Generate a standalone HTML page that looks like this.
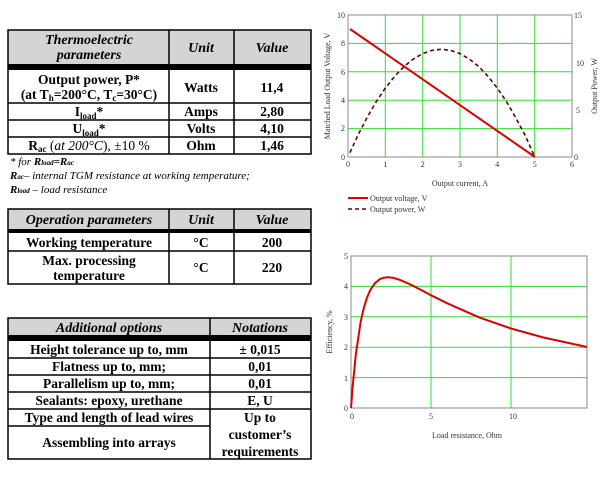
<!DOCTYPE html>
<html><head><meta charset="utf-8"><style>
html,body{margin:0;padding:0;background:#fff;}
svg{display:block;}
.t{font-family:"Liberation Serif",serif;font-weight:bold;font-size:13.5px;fill:#000;}
.h{font-family:"Liberation Serif",serif;font-weight:bold;font-style:italic;font-size:14px;fill:#000;}
.n{font-family:"Liberation Serif",serif;font-style:italic;font-size:11px;fill:#000;}
.a{font-family:"Liberation Serif",serif;font-size:8px;fill:#333;}
</style></head><body>
<svg width="613" height="478" viewBox="0 0 613 478" xmlns="http://www.w3.org/2000/svg">
<!-- Table 1 -->
<rect x="8" y="30" width="303" height="34" fill="#d4d4d4"/>
<rect x="8" y="64" width="303" height="6" fill="#000"/>
<g stroke="#000" stroke-width="1.5" fill="none">
<rect x="8" y="30" width="303" height="124"/>
<line x1="169" y1="30" x2="169" y2="154"/><line x1="234" y1="30" x2="234" y2="154"/>
<line x1="8" y1="103" x2="311" y2="103"/><line x1="8" y1="120" x2="311" y2="120"/><line x1="8" y1="137" x2="311" y2="137"/>
</g>
<g text-anchor="middle">
<text class="h" x="89" y="44">Thermoelectric</text><text class="h" x="89" y="59">parameters</text>
<text class="h" x="201" y="52">Unit</text><text class="h" x="272" y="52">Value</text>
<text class="t" x="89" y="84">Output power, P*</text>
<text class="t" x="89" y="99">(at T<tspan font-size="9" dy="2">h</tspan><tspan dy="-2">=200°C, T</tspan><tspan font-size="9" dy="2">c</tspan><tspan dy="-2">=30°C)</tspan></text>
<text class="t" x="201" y="92">Watts</text><text class="t" x="272" y="92">11,4</text>
<text class="t" x="89" y="116">I<tspan font-size="9" dy="3">load</tspan><tspan dy="-3">*</tspan></text>
<text class="t" x="201" y="116">Amps</text><text class="t" x="272" y="116">2,80</text>
<text class="t" x="89" y="133">U<tspan font-size="9" dy="3">load</tspan><tspan dy="-3">*</tspan></text>
<text class="t" x="201" y="133">Volts</text><text class="t" x="272" y="133">4,10</text>
<text class="t" x="89" y="150">R<tspan font-size="9" dy="2">ac</tspan><tspan dy="-2" font-weight="normal"> (<tspan font-style="italic">at 200°C</tspan>), ±10 %</tspan></text>
<text class="t" x="201" y="150">Ohm</text><text class="t" x="272" y="150">1,46</text>
</g>
<text class="n" x="10" y="165">* for <tspan font-weight="bold">R<tspan font-size="7">load</tspan>=R<tspan font-size="7">ac</tspan></tspan></text>
<text class="n" x="10" y="179"><tspan font-weight="bold">R<tspan font-size="7">ac</tspan></tspan>– internal TGM resistance at working temperature;</text>
<text class="n" x="10" y="193"><tspan font-weight="bold">R<tspan font-size="7">load</tspan></tspan> – load resistance</text>
<!-- Table 2 -->
<rect x="8" y="209" width="303" height="20" fill="#d4d4d4"/>
<rect x="8" y="229" width="303" height="4" fill="#000"/>
<g stroke="#000" stroke-width="1.5" fill="none">
<rect x="8" y="209" width="303" height="75"/>
<line x1="169" y1="209" x2="169" y2="284"/><line x1="234" y1="209" x2="234" y2="284"/>
<line x1="8" y1="251" x2="311" y2="251"/>
</g>
<g text-anchor="middle">
<text class="h" x="89" y="224">Operation parameters</text><text class="h" x="201" y="224">Unit</text><text class="h" x="272" y="224">Value</text>
<text class="t" x="89" y="247">Working temperature</text><text class="t" x="201" y="247">°C</text><text class="t" x="272" y="247">200</text>
<text class="t" x="89" y="265">Max. processing</text><text class="t" x="89" y="280">temperature</text>
<text class="t" x="201" y="272">°C</text><text class="t" x="272" y="272">220</text>
</g>
<!-- Table 3 -->
<rect x="8" y="318" width="303" height="17" fill="#d4d4d4"/>
<rect x="8" y="335" width="303" height="6" fill="#000"/>
<g stroke="#000" stroke-width="1.5" fill="none">
<rect x="8" y="318" width="303" height="141"/>
<line x1="210" y1="318" x2="210" y2="459"/>
<line x1="8" y1="358" x2="311" y2="358"/><line x1="8" y1="375" x2="311" y2="375"/><line x1="8" y1="392" x2="311" y2="392"/>
<line x1="8" y1="409" x2="311" y2="409"/><line x1="8" y1="426" x2="210" y2="426"/>
</g>
<g text-anchor="middle">
<text class="h" x="109" y="332">Additional options</text><text class="h" x="260" y="332">Notations</text>
<text class="t" x="109" y="354">Height tolerance up to, mm</text><text class="t" x="260" y="354">± 0,015</text>
<text class="t" x="109" y="371">Flatness up to, mm;</text><text class="t" x="260" y="371">0,01</text>
<text class="t" x="109" y="388">Parallelism up to, mm;</text><text class="t" x="260" y="388">0,01</text>
<text class="t" x="109" y="405">Sealants: epoxy, urethane</text><text class="t" x="260" y="405">E, U</text>
<text class="t" x="109" y="422">Type and length of lead wires</text>
<text class="t" x="109" y="447">Assembling into arrays</text>
<text class="t" x="260" y="422">Up to</text><text class="t" x="260" y="439">customer’s</text><text class="t" x="260" y="456">requirements</text>
</g>
<!-- Chart 1 -->
<g stroke="#3d3" stroke-width="1">
<line x1="385.3" y1="15" x2="385.3" y2="157"/><line x1="422.7" y1="15" x2="422.7" y2="157"/><line x1="460" y1="15" x2="460" y2="157"/><line x1="497.3" y1="15" x2="497.3" y2="157"/><line x1="534.7" y1="15" x2="534.7" y2="157"/>
<line x1="348" y1="128.6" x2="572" y2="128.6"/><line x1="348" y1="100.2" x2="572" y2="100.2"/><line x1="348" y1="71.8" x2="572" y2="71.8"/><line x1="348" y1="43.4" x2="572" y2="43.4"/>
</g>
<rect x="348" y="15" width="224" height="142" fill="none" stroke="#888" stroke-width="1"/>
<polyline points="350,29 535,157" fill="none" stroke="#d00" stroke-width="2"/>
<polyline points="349.9,152.7 358,135 366.7,118.2 376,102 385.3,88.1 394.7,76.3 404,66.5 413.3,59 422.7,53.6 432,50.4 441.3,49.3 450.7,50.4 460,53.6 469.3,59 478.7,66.5 488,76.3 497.3,88.1 506.7,102 516,118.2 525.3,135.6 534.7,157" fill="none" stroke="#600" stroke-width="1.6" stroke-dasharray="4,3"/>
<g class="a" text-anchor="end">
<text x="345" y="160">0</text><text x="345" y="131">2</text><text x="345" y="103">4</text><text x="345" y="75">6</text><text x="345" y="46">8</text><text x="345" y="18">10</text>
</g>
<g class="a">
<text x="574" y="160">0</text><text x="576" y="113">5</text><text x="576" y="66">10</text><text x="574" y="18">15</text>
</g>
<g class="a" text-anchor="middle">
<text x="348" y="167">0</text><text x="385.3" y="167">1</text><text x="422.7" y="167">2</text><text x="460" y="167">3</text><text x="497.3" y="167">4</text><text x="534.7" y="167">5</text><text x="572" y="167">6</text>
<text x="460" y="186">Output current, A</text>
</g>
<text class="a" transform="translate(330,86) rotate(-90)" text-anchor="middle">Matched Load Output Voltage, V</text>
<text class="a" transform="translate(597,86) rotate(-90)" text-anchor="middle">Output Power, W</text>
<line x1="348" y1="198" x2="368" y2="198" stroke="#d00" stroke-width="2"/>
<line x1="348" y1="209" x2="368" y2="209" stroke="#600" stroke-width="1.6" stroke-dasharray="4,3"/>
<text class="a" x="370" y="201">Output voltage, V</text>
<text class="a" x="370" y="212">Output power, W</text>
<!-- Chart 2 -->
<g stroke="#3d3" stroke-width="1">
<line x1="431" y1="256" x2="431" y2="408"/><line x1="511" y1="256" x2="511" y2="408"/>
<line x1="351" y1="377.6" x2="587" y2="377.6"/><line x1="351" y1="347.2" x2="587" y2="347.2"/><line x1="351" y1="316.8" x2="587" y2="316.8"/><line x1="351" y1="286.4" x2="587" y2="286.4"/>
</g>
<rect x="351" y="256" width="236" height="152" fill="none" stroke="#888" stroke-width="1"/>
<polyline points="351,408 352.6,387.1 355.8,354.6 360.6,322.2 363.8,307.9 367,297.6 370.2,290.2 375,283.1 379.8,279.2 383,277.9 387.8,277.3 392.6,277.7 399,279.6 407,282.9 415,286.8 431,295.2 447,303.2 479,317.3 511,328.5 543,337.4 587,347" fill="none" stroke="#d00" stroke-width="2" stroke-linejoin="round"/>
<g class="a" text-anchor="end">
<text x="348" y="411">0</text><text x="348" y="381">1</text><text x="348" y="350">2</text><text x="348" y="320">3</text><text x="348" y="289">4</text><text x="348" y="259">5</text>
</g>
<g class="a" text-anchor="middle">
<text x="352" y="419">0</text><text x="431" y="419">5</text><text x="513" y="419">10</text>
<text x="467" y="438">Load resistance, Ohm</text>
</g>
<text class="a" transform="translate(332,332) rotate(-90)" text-anchor="middle">Efficiency, %</text>
</svg>
</body></html>
